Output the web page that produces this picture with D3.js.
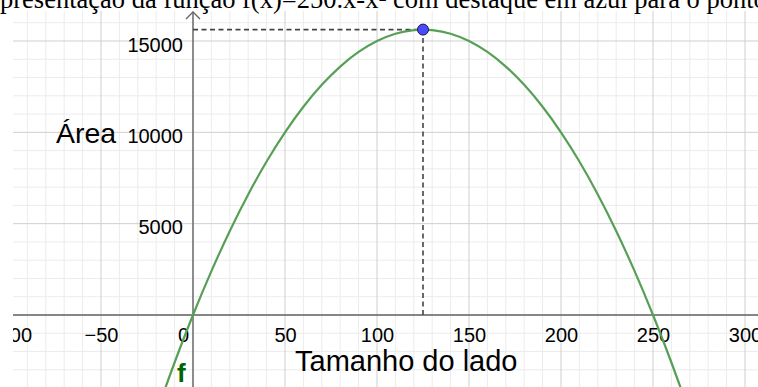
<!DOCTYPE html>
<html>
<head>
<meta charset="utf-8">
<script src="https://cdn.jsdelivr.net/npm/d3@7"></script>
<style>
  html, body { margin: 0; padding: 0; background: #fff; }
  svg { display: block; }
</style>
</head>
<body>
<script>
// Area of a rectangle with fixed perimeter: f(x) = 250x - x²
const sideLengths = [-20, -10, 0, 10, 20, 30, 40, 50, 60, 70, 80, 90, 100, 110, 120, 125,
                     130, 140, 150, 160, 170, 180, 190, 200, 210, 220, 230, 240, 250, 260, 270];
const areas = [-5400, -2600, 0, 2400, 4600, 6600, 8400, 10000, 11400, 12600, 13600, 14400, 15000,
               15400, 15600, 15625, 15600, 15400, 15000, 14400, 13600, 12600, 11400, 10000, 8400,
               6600, 4600, 2400, 0, -2600, -5400];
const maxPoint = [125, 15625];

const xTicks = [-100, -50, 0, 50, 100, 150, 200, 250, 300];
const xTickLabels = ["\u2212100", "\u221250", "0", "50", "100", "150", "200", "250", "300"];
const yTicks = [5000, 10000, 15000];
const yTickLabels = ["5000", "10000", "15000"];

const titleText = "Representação da função f(x)=250.x-x² com destaque em azul para o ponto máximo";
const xTitle = "Tamanho do lado";
const yTitle = "Área";
const curveName = "f";

const W = 758, H = 387;
const view = { left: 13, top: 11, right: W, bottom: H };

const x = d3.scaleLinear().domain([-100, 300]).range([9, 745]);
const y = d3.scaleLinear().domain([0, 15000]).range([315, 41]);

const svg = d3.select("body").append("svg").attr("width", W).attr("height", H);

svg.append("clipPath").attr("id", "view")
  .append("rect")
  .attr("x", view.left).attr("y", view.top)
  .attr("width", view.right - view.left).attr("height", view.bottom - view.top);

const g = svg.append("g").attr("clip-path", "url(#view)");

// grid: minor every 10 / 1000, major every 50 / 5000
const xMinor = d3.range(-110, 320, 10);
const yMinor = d3.range(-6000, 18000, 1000);
g.append("g").selectAll("line").data(xMinor.filter(d => d % 50 !== 0)).join("line")
  .attr("x1", d => x(d)).attr("x2", d => x(d))
  .attr("y1", view.top).attr("y2", view.bottom)
  .attr("stroke", "#ececec").attr("stroke-width", 1);
g.append("g").selectAll("line").data(yMinor.filter(d => d % 5000 !== 0)).join("line")
  .attr("y1", d => y(d)).attr("y2", d => y(d))
  .attr("x1", view.left).attr("x2", view.right)
  .attr("stroke", "#ececec").attr("stroke-width", 1);
g.append("g").selectAll("line").data(xMinor.filter(d => d % 50 === 0)).join("line")
  .attr("x1", d => x(d)).attr("x2", d => x(d))
  .attr("y1", view.top).attr("y2", view.bottom)
  .attr("stroke", "#cfcfcf");
g.append("g").selectAll("line").data(yMinor.filter(d => d % 5000 === 0)).join("line")
  .attr("y1", d => y(d)).attr("y2", d => y(d))
  .attr("x1", view.left).attr("x2", view.right)
  .attr("stroke", "#cfcfcf");

// axis lines
const axisColor = "#666";
g.append("line")
  .attr("x1", view.left).attr("x2", view.right)
  .attr("y1", y(0)).attr("y2", y(0))
  .attr("stroke", axisColor).attr("stroke-width", 1.4);
g.append("line")
  .attr("x1", x(0)).attr("x2", x(0))
  .attr("y1", view.top + 1).attr("y2", view.bottom)
  .attr("stroke", axisColor).attr("stroke-width", 1.4);
// open arrow head at the top of the y axis
g.append("path")
  .attr("d", `M${x(0) - 7},${view.top + 8} L${x(0)},${view.top + 1} L${x(0) + 7},${view.top + 8}`)
  .attr("fill", "none").attr("stroke", axisColor).attr("stroke-width", 1.4);

// tick labels through d3 axes
const labelFont = "'Liberation Sans', Arial, sans-serif";
const xAxis = d3.axisBottom(x).tickValues(xTicks).tickSize(0).tickPadding(0)
  .tickFormat((d, i) => xTickLabels[i]);
const xg = g.append("g").attr("transform", `translate(0,${y(0)})`).call(xAxis);
xg.select(".domain").remove();
xg.selectAll("text")
  .attr("y", 27).attr("dy", null)
  .attr("font-family", labelFont).attr("font-size", 20).attr("fill", "#000")
  .attr("dx", d => d === 0 ? -10 : 0);

const yAxis = d3.axisLeft(y).tickValues(yTicks).tickSize(0).tickPadding(0)
  .tickFormat((d, i) => yTickLabels[i]);
const yg = g.append("g").attr("transform", `translate(${x(0)},0)`).call(yAxis);
yg.select(".domain").remove();
yg.selectAll("text")
  .attr("x", -10).attr("dy", 10)
  .attr("font-family", labelFont).attr("font-size", 20).attr("fill", "#000");

// dashed guides to the maximum
const guide = { stroke: "#444", "stroke-width": 1.6, "stroke-dasharray": "5,3.5" };
const hGuide = g.append("line")
  .attr("x1", x(0)).attr("x2", x(maxPoint[0]))
  .attr("y1", y(maxPoint[1])).attr("y2", y(maxPoint[1]));
const vGuide = g.append("line")
  .attr("x1", x(maxPoint[0])).attr("x2", x(maxPoint[0]))
  .attr("y1", y(maxPoint[1])).attr("y2", y(0));
[hGuide, vGuide].forEach(l => Object.entries(guide).forEach(([k, v]) => l.attr(k, v)));

// the parabola
const pts = sideLengths.map((s, i) => [s, areas[i]]);
g.append("path")
  .datum(pts)
  .attr("d", d3.line().x(d => x(d[0])).y(d => y(d[1])).curve(d3.curveCatmullRom.alpha(0.5)))
  .attr("fill", "none").attr("stroke", "#56a056").attr("stroke-width", 2.2);

// maximum point
g.append("circle")
  .attr("cx", x(maxPoint[0])).attr("cy", y(maxPoint[1])).attr("r", 5.5)
  .attr("fill", "#4a4aff").attr("stroke", "#1a1a4a").attr("stroke-width", 1);

// curve name
svg.append("text")
  .attr("x", 177).attr("y", 382)
  .attr("font-family", labelFont).attr("font-size", 26).attr("font-weight", "bold")
  .attr("fill", "#006400").text(curveName);

// axis titles
svg.append("text")
  .attr("x", 56).attr("y", 143)
  .attr("font-family", labelFont).attr("font-size", 28.5).attr("fill", "#000")
  .text(yTitle);
svg.append("text")
  .attr("x", 295).attr("y", 371)
  .attr("font-family", labelFont).attr("font-size", 29).attr("fill", "#000")
  .text(xTitle);

// caption across the top
const titleFont = "'Liberation Serif', 'Times New Roman', serif";
const titleSize = 26.5;
const title = svg.append("text")
  .attr("y", 8)
  .attr("font-family", titleFont)
  .attr("font-size", titleSize).attr("fill", "#000")
  .text(titleText);
// shift so that the leading "Re" falls off the left edge
const probe = svg.append("text")
  .attr("font-family", titleFont)
  .attr("font-size", titleSize).text("Re");
const offset = probe.node().getComputedTextLength();
probe.remove();
title.attr("x", -offset);
</script>
</body>
</html>
